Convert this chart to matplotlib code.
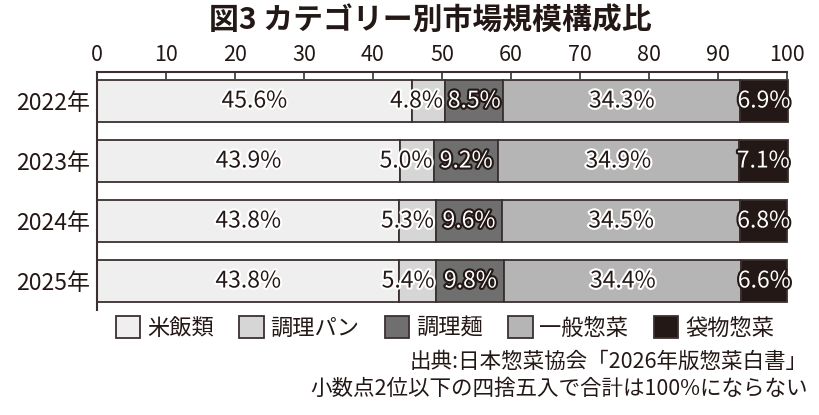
import matplotlib
matplotlib.use("Agg")
import matplotlib.pyplot as plt
import matplotlib.patheffects as pe
from matplotlib.patches import Patch
import numpy as np

plt.rcParams['font.family'] = ['Noto Sans CJK JP', 'DejaVu Sans']

years = ["2022年", "2023年", "2024年", "2025年"]
categories = ["米飯類", "調理パン", "調理麺", "一般惣菜", "袋物惣菜"]
rice = [45.6, 43.9, 43.8, 43.8]
bread = [4.8, 5.0, 5.3, 5.4]
noodles = [8.5, 9.2, 9.6, 9.8]
general = [34.3, 34.9, 34.5, 34.4]
bagged = [6.9, 7.1, 6.8, 6.6]
series = [rice, bread, noodles, general, bagged]
colors = ["#efefef", "#d6d6d6", "#6f6f6f", "#b5b5b5", "#231816"]
xticks = [0, 10, 20, 30, 40, 50, 60, 70, 80, 90, 100]

title = "図3 カテゴリー別市場規模構成比"
source1 = "出典:日本惣菜協会「2026年版惣菜白書」"
source2 = "小数点2位以下の四捨五入で合計は100%にならない"

TXT = "#231815"
EDGE = "#3a3030"

fig = plt.figure(figsize=(8.2, 4.15), dpi=100)
ax = fig.add_axes([97/820, 1-310/415, (787-97)/820, (310-72)/415])

y = np.arange(len(years))
left = np.zeros(len(years))
for i, (vals, col) in enumerate(zip(series, colors)):
    vals = np.array(vals)
    ax.barh(y, vals, left=left, height=0.7, color=col, edgecolor=EDGE,
            linewidth=1.3, clip_on=False, label=categories[i])
    for j, v in enumerate(vals):
        lab = f"{v:.1f}%"
        if i in (2, 4):
            fc, sc = "white", TXT
        else:
            fc, sc = TXT, "white"
        if i == 1:
            xpos = left[j] + v - 0.3
            ha = "right"
        else:
            xpos = left[j] + v / 2
            ha = "center"
        ax.text(xpos, y[j], lab, ha=ha, va="center", fontsize=16.5, color=fc,
                path_effects=[pe.withStroke(linewidth=3, foreground=sc)], zorder=5)
    left = left + vals

ax.set_xlim(0, 100)
ax.set_ylim(3.483, -0.483)
ax.xaxis.tick_top()
ax.set_xticks(xticks)
ax.set_xticklabels([str(t) for t in xticks], fontsize=15.5, color=TXT)
ax.tick_params(axis="x", direction="in", length=5, width=1.2, color=EDGE, pad=4)
ax.set_yticks(y)
ax.set_yticklabels(years, fontsize=16.5, color=TXT)
ax.tick_params(axis="y", length=0, pad=5)
for s in ["right", "bottom"]:
    ax.spines[s].set_visible(False)
for s in ["top", "left"]:
    ax.spines[s].set_color(EDGE)
    ax.spines[s].set_linewidth(1.5)

fig.text(430/820, 1-21/415, title, ha="center", va="center", fontsize=21.5,
         fontweight="bold", color=TXT)

handles = [Patch(facecolor=c, edgecolor=EDGE, linewidth=1.3) for c in colors]
fig.legend(handles, categories, loc="center", bbox_to_anchor=(445/820, 1-328/415),
           ncol=5, frameon=False, fontsize=16, handlelength=1.1, handleheight=1.1,
           handletextpad=0.3, columnspacing=1.15, labelcolor=TXT)

fig.text(808/820, 1-362/415, source1, ha="right", va="center", fontsize=15.5, color=TXT)
fig.text(808/820, 1-389/415, source2, ha="right", va="center", fontsize=15.5, color=TXT)

fig.savefig("out.png", dpi=100)
